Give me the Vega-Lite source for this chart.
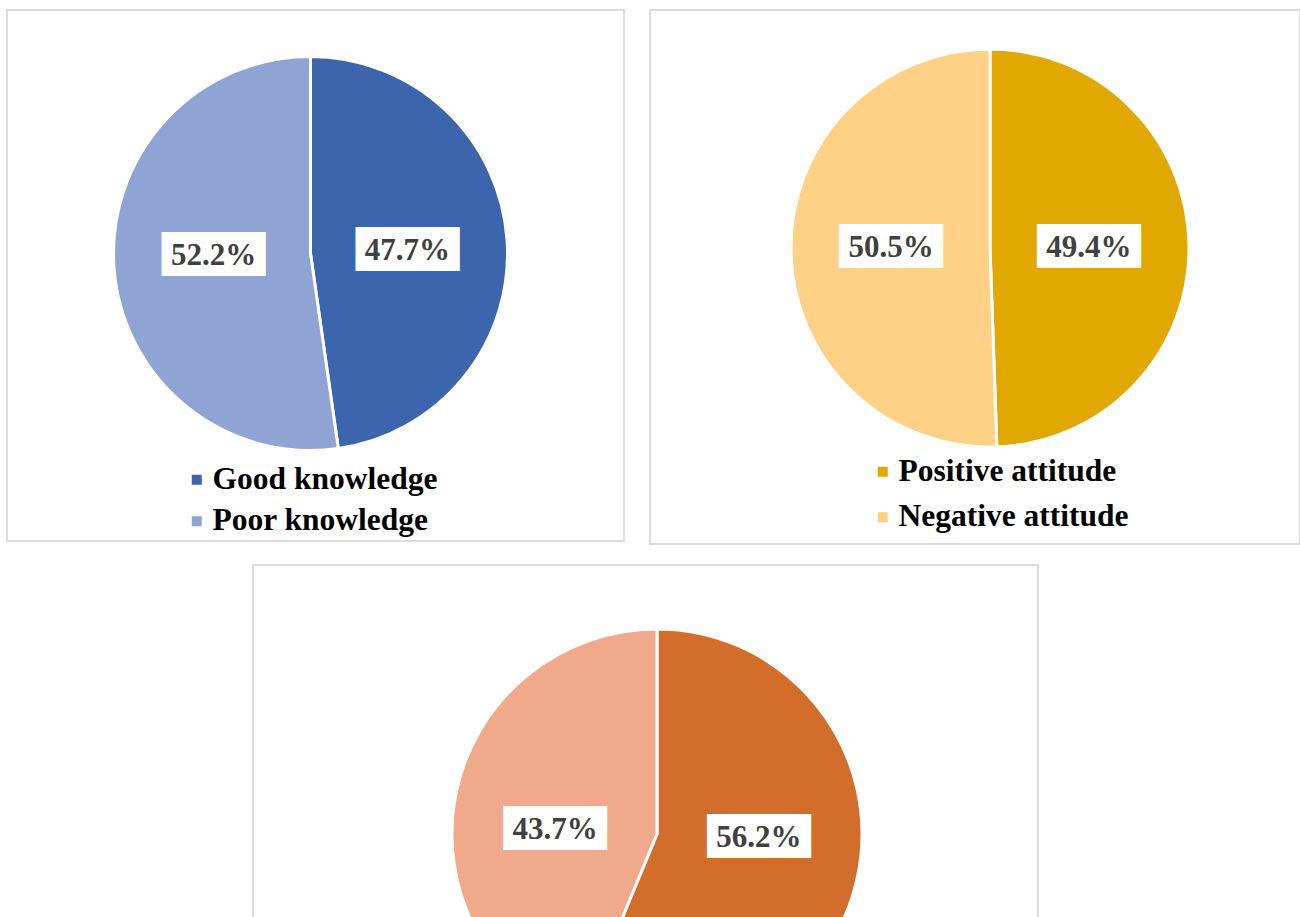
{
  "$schema": "https://vega.github.io/schema/vega-lite/v6.json",
  "background": "white",
  "padding": {"left": 6, "top": 9, "right": 0, "bottom": 0},
  "config": {
    "view": {"stroke": "#dcdcdc", "strokeWidth": 2},
    "font": "Liberation Serif"
  },
  "resolve": {"scale": {"color": "independent", "theta": "independent"}, "legend": {"color": "independent"}},
  "vconcat": [
    {
      "resolve": {"scale": {"color": "independent", "theta": "independent"}, "legend": {"color": "independent"}},
      "hconcat": [
        {
          "width": 617,
          "height": 531,
          "view": {"stroke": "#dcdcdc", "strokeWidth": 2},
          "data": {"values": [
            {"category": "Good knowledge", "share": 0.477},
            {"category": "Poor knowledge", "share": 0.522}
          ]},
          "encoding": {
            "theta": {"field": "share", "type": "quantitative", "stack": true},
            "order": {"field": "category", "sort": "ascending"}
          },
          "layer": [
            {
              "mark": {"type": "arc", "radius": 197, "stroke": "white", "strokeWidth": 3, "xOffset": -5, "yOffset": -22},
              "encoding": {
                "color": {
                  "field": "category", "type": "nominal",
                  "scale": {"domain": ["Good knowledge", "Poor knowledge"], "range": ["#3D65AD", "#8FA4D4"]},
                  "legend": {
                    "title": null, "orient": "none", "legendX": 174, "legendY": 454,
                    "symbolType": "square", "symbolSize": 100, "symbolStrokeWidth": 0,
                    "labelFont": "Liberation Serif", "labelFontSize": 31.5, "labelFontWeight": "bold",
                    "labelColor": "#000000", "labelOffset": 0, "rowPadding": 8.5, "labelLimit": 400
                  }
                }
              }
            },
            {
              "mark": {"type": "text", "text": "███", "font": "DejaVu Sans", "fontSize": 37, "fill": "white", "radius": 97, "thetaOffset": 0.05, "dx": -9, "xOffset": -5, "yOffset": -22}
            },
            {
              "mark": {"type": "text", "text": "███", "font": "DejaVu Sans", "fontSize": 37, "fill": "white", "radius": 97, "thetaOffset": 0.05, "dx": 9, "xOffset": -5, "yOffset": -22}
            },
            {
              "mark": {"type": "text", "radius": 97, "thetaOffset": 0.05, "font": "Liberation Serif", "fontSize": 31, "fontWeight": "bold", "fill": "#404040", "xOffset": -5, "yOffset": -22},
              "encoding": {"text": {"field": "share", "type": "quantitative", "format": ".1%"}}
            }
          ]
        },
        {
          "width": 650,
          "height": 534,
          "view": {"stroke": "#dcdcdc", "strokeWidth": 2},
          "data": {"values": [
            {"category": "Positive attitude", "share": 0.494},
            {"category": "Negative attitude", "share": 0.505}
          ]},
          "encoding": {
            "theta": {"field": "share", "type": "quantitative", "stack": true},
            "order": {"field": "category", "sort": "descending"}
          },
          "layer": [
            {
              "mark": {"type": "arc", "radius": 199, "stroke": "white", "strokeWidth": 3, "xOffset": 15, "yOffset": -29},
              "encoding": {
                "color": {
                  "field": "category", "type": "nominal",
                  "scale": {"domain": ["Positive attitude", "Negative attitude"], "range": ["#E0A800", "#FFD186"]},
                  "legend": {
                    "title": null, "orient": "none", "legendX": 217, "legendY": 446,
                    "symbolType": "square", "symbolSize": 100, "symbolStrokeWidth": 0,
                    "labelFont": "Liberation Serif", "labelFontSize": 31.5, "labelFontWeight": "bold",
                    "labelColor": "#000000", "labelOffset": 0, "rowPadding": 12.5, "labelLimit": 400
                  }
                }
              }
            },
            {
              "mark": {"type": "text", "text": "███", "font": "DejaVu Sans", "fontSize": 37, "fill": "white", "radius": 99, "thetaOffset": 0.02, "dx": -9, "xOffset": 15, "yOffset": -29}
            },
            {
              "mark": {"type": "text", "text": "███", "font": "DejaVu Sans", "fontSize": 37, "fill": "white", "radius": 99, "thetaOffset": 0.02, "dx": 9, "xOffset": 15, "yOffset": -29}
            },
            {
              "mark": {"type": "text", "radius": 99, "thetaOffset": 0.02, "font": "Liberation Serif", "fontSize": 31, "fontWeight": "bold", "fill": "#404040", "xOffset": 15, "yOffset": -29},
              "encoding": {"text": {"field": "share", "type": "quantitative", "format": ".1%"}}
            }
          ]
        }
      ],
      "spacing": 24
    },
    {
      "hconcat": [
        {
          "width": 219,
          "height": 10,
          "view": {"stroke": null},
          "data": {"values": []},
          "mark": {"type": "text", "text": ""},
          "encoding": {}
        },
        {
          "width": 785,
          "height": 534,
          "view": {"stroke": "#dcdcdc", "strokeWidth": 2},
          "data": {"values": [
            {"category": "Good practice", "share": 0.562},
            {"category": "Poor practice", "share": 0.437}
          ]},
          "encoding": {
            "theta": {"field": "share", "type": "quantitative", "stack": true},
            "order": {"field": "category", "sort": "ascending"}
          },
          "layer": [
            {
              "mark": {"type": "arc", "radius": 205, "stroke": "white", "strokeWidth": 3, "xOffset": 11.5, "yOffset": 2},
              "encoding": {
                "color": {
                  "field": "category", "type": "nominal",
                  "scale": {"domain": ["Good practice", "Poor practice"], "range": ["#D36D2B", "#F0A98A"]},
                  "legend": null
                }
              }
            },
            {
              "mark": {"type": "text", "text": "███", "font": "DejaVu Sans", "fontSize": 37, "fill": "white", "radius": 102, "thetaOffset": -0.16, "dx": -9, "xOffset": 11.5, "yOffset": 2}
            },
            {
              "mark": {"type": "text", "text": "███", "font": "DejaVu Sans", "fontSize": 37, "fill": "white", "radius": 102, "thetaOffset": -0.16, "dx": 9, "xOffset": 11.5, "yOffset": 2}
            },
            {
              "mark": {"type": "text", "radius": 102, "thetaOffset": -0.16, "font": "Liberation Serif", "fontSize": 31, "fontWeight": "bold", "fill": "#404040", "xOffset": 11.5, "yOffset": 2},
              "encoding": {"text": {"field": "share", "type": "quantitative", "format": ".1%"}}
            }
          ]
        }
      ],
      "spacing": 26
    }
  ],
  "spacing": 19
}
